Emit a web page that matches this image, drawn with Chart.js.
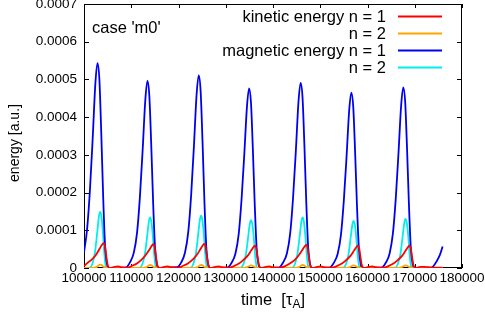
<!DOCTYPE html>
<html>
<head>
<meta charset="utf-8">
<script src="https://cdn.jsdelivr.net/npm/chart.js@4.4.0/dist/chart.umd.min.js"></script>
<style>
  html, body { margin: 0; padding: 0; background: #fff; }
</style>
</head>
<body>
<canvas id="chart" width="485" height="320"></canvas>
<script>
// energies in units of 1e-4, time in tau_A

const seriesLabels = ["kinetic energy n = 1", "n = 2", "magnetic energy n = 1", "n = 2"]
const seriesColors = ["#ff0000", "#ffa500", "#0000f0", "#00eeee"]

const kinN1Time = [100000,100690,101690,102590,103390,103890,104190,104440,104690,104940,105190,105490,106500,107200,107900,
    109200,110200,111200,112200,113100,113900,114400,114700,114950,115200,115450,115700,116000,117000,117700,118400,
    119990,120990,121990,122990,123890,124690,125190,125490,125740,125990,126240,126490,126790,127800,128500,129200,
    130710,131710,132710,133710,134610,135410,135910,136210,136460,136710,136960,137210,137510,138500,139200,139900,
    141560,142560,143560,144560,145460,146260,146760,147060,147310,147560,147810,148060,148360,149400,150100,150800,
    152490,153490,154490,155490,156390,157190,157690,157990,158240,158490,158740,158990,159290,160300,161000,161700,
    163410,164410,165410,166410,167310,168110,168610,168910,169160,169410,169660,169910,170210,171200,172000,173000,174500,175900]
const kinN1 = [0.05,0.13,0.23,0.36,0.53,0.63,0.66,0.58,0.34,0.12,0.02,0,0.03,0.04,0.02,
    0.01,0.06,0.12,0.22,0.35,0.50,0.60,0.63,0.55,0.33,0.11,0.02,0,0.03,0.04,0.02,
    0.01,0.06,0.12,0.22,0.35,0.51,0.61,0.64,0.56,0.33,0.12,0.02,0,0.03,0.04,0.02,
    0.01,0.05,0.11,0.21,0.32,0.47,0.56,0.59,0.52,0.31,0.11,0.02,0,0.03,0.04,0.02,
    0.01,0.05,0.12,0.21,0.34,0.49,0.58,0.61,0.54,0.32,0.11,0.02,0,0.03,0.04,0.02,
    0.01,0.05,0.11,0.21,0.32,0.47,0.56,0.59,0.52,0.31,0.11,0.02,0,0.03,0.04,0.02,
    0.01,0.05,0.11,0.21,0.32,0.47,0.56,0.59,0.52,0.31,0.11,0.02,0,0.03,0.03,0.02,0.01,0.01]

const kinN2Time = [100000,101930,102730,103180,103430,103730,104130,104730,
    112500,113300,113750,114000,114300,114700,115300,
    123290,124090,124540,124790,125090,125490,126090,
    133860,134660,135110,135360,135660,136060,136660,
    144780,145580,146030,146280,146580,146980,147580,
    155560,156360,156810,157060,157360,157760,158360,
    166560,167360,167810,168060,168360,168760,169360,
    175900]
const kinN2 = [0.005,0.005,0.03,0.08,0.09,0.08,0.03,0.005,
    0.005,0.03,0.07,0.08,0.07,0.03,0.005,
    0.005,0.03,0.07,0.08,0.07,0.03,0.005,
    0.005,0.03,0.06,0.07,0.06,0.03,0.005,
    0.005,0.03,0.07,0.08,0.07,0.03,0.005,
    0.005,0.03,0.06,0.07,0.06,0.03,0.005,
    0.005,0.03,0.06,0.07,0.06,0.03,0.005,
    0.005]

const magN1Time = [100000,100655,101255,101855,102405,102855,103255,103655,104055,104455,104855,105255,
    108830,109730,110530,111230,111830,112430,112980,113430,113830,114230,114630,115030,115430,115830,
    119680,120580,121380,122080,122680,123280,123830,124280,124680,125080,125480,125880,126280,126680,
    130340,131240,132040,132740,133340,133940,134490,134940,135340,135740,136140,136540,136940,137340,
    141250,142150,142950,143650,144250,144850,145400,145850,146250,146650,147050,147450,147850,148250,
    151980,152880,153680,154380,154980,155580,156130,156580,156980,157380,157780,158180,158580,158980,
    162970,163870,164670,165370,165970,166570,167120,167570,167970,168370,168770,169170,169570,169970,
    173000,173800,174600,175300,175900]
const magN1 = [0.41,1.03,2.06,3.48,4.89,5.43,5.00,3.58,1.90,0.60,0.11,0,
    0.01,0.15,0.40,0.94,1.88,3.17,4.46,4.96,4.56,3.27,1.74,0.55,0.10,0,
    0.02,0.15,0.41,0.97,1.94,3.27,4.60,5.11,4.70,3.37,1.79,0.56,0.10,0,
    0.01,0.14,0.38,0.90,1.81,3.05,4.28,4.76,4.38,3.14,1.67,0.52,0.10,0,
    0.01,0.15,0.39,0.93,1.87,3.14,4.42,4.91,4.52,3.24,1.72,0.54,0.10,0,
    0.01,0.14,0.37,0.88,1.77,2.98,4.19,4.65,4.28,3.07,1.63,0.51,0.09,0,
    0.01,0.14,0.38,0.91,1.82,3.07,4.31,4.79,4.41,3.16,1.68,0.53,0.10,0,
    0,0.03,0.17,0.34,0.57]

const magN2Time = [100000,101230,101830,102330,102830,103180,103430,103680,103980,104280,104580,104880,
    111800,112400,112900,113400,113750,114000,114250,114550,114850,115150,115450,
    122590,123190,123690,124190,124540,124790,125040,125340,125640,125940,126240,
    133160,133760,134260,134760,135110,135360,135610,135910,136210,136510,136810,
    144080,144680,145180,145680,146030,146280,146530,146830,147130,147430,147730,
    154860,155460,155960,156460,156810,157060,157310,157610,157910,158210,158510,
    165860,166460,166960,167460,167810,168060,168310,168610,168910,169210,169510,
    175900]
const magN2 = [0,0.01,0.13,0.42,0.98,1.39,1.49,1.37,0.98,0.42,0.06,0,
    0.01,0.12,0.38,0.88,1.25,1.34,1.23,0.88,0.38,0.05,0,
    0.01,0.13,0.39,0.92,1.29,1.39,1.28,0.92,0.39,0.06,0,
    0.01,0.11,0.36,0.84,1.18,1.27,1.17,0.84,0.36,0.05,0,
    0.01,0.12,0.38,0.88,1.25,1.34,1.23,0.88,0.38,0.05,0,
    0.01,0.11,0.35,0.83,1.16,1.25,1.15,0.83,0.35,0.05,0,
    0.01,0.12,0.36,0.86,1.21,1.30,1.20,0.86,0.36,0.05,0,
    0]

const FONT = '"Liberation Sans", Arial, Helvetica, sans-serif'

const series = function(times, values, i) {
    return {
        label: seriesLabels[i],
        data: times.map((t, k) => ({ x: t, y: values[k] * 1e-4 })),
        borderColor: seriesColors[i],
        backgroundColor: seriesColors[i],
        borderWidth: 1.8,
        pointRadius: 0,
        fill: false,
        cubicInterpolationMode: 'monotone'
    }
}

// border, inward tics on all four sides
const frame = {
    id: 'frame',
    beforeDatasetsDraw(chart) {
        const { ctx, chartArea: a, scales: { x, y } } = chart
        ctx.save()
        ctx.strokeStyle = '#000'
        ctx.lineWidth = 1
        ctx.strokeRect(a.left + 0.5, a.top + 0.5, a.right - a.left - 1, a.bottom - a.top - 1)
        ctx.beginPath()
        x.ticks.forEach((t) => {
            const px = Math.round(x.getPixelForValue(t.value)) + 0.5
            ctx.moveTo(px, a.bottom); ctx.lineTo(px, a.bottom - 4)
            ctx.moveTo(px, a.top); ctx.lineTo(px, a.top + 4)
        })
        y.ticks.forEach((t) => {
            const py = Math.round(y.getPixelForValue(t.value)) + 0.5
            ctx.moveTo(a.left, py); ctx.lineTo(a.left + 5, py)
            ctx.moveTo(a.right, py); ctx.lineTo(a.right - 5, py)
        })
        ctx.stroke()
        ctx.restore()
    },
    afterDraw(chart) {
        const ctx = chart.ctx
        ctx.save()
        ctx.fillStyle = '#000'

        // key
        ctx.font = '16.5px ' + FONT
        ctx.textAlign = 'right'
        ctx.textBaseline = 'alphabetic'
        chart.data.datasets.forEach((ds, i) => {
            const ly = 16 + i * 17
            ctx.fillStyle = '#000'
            ctx.fillText(ds.label, 386, ly + 5.5)
            ctx.strokeStyle = ds.borderColor
            ctx.lineWidth = 2
            ctx.beginPath()
            ctx.moveTo(398, ly + 0.5)
            ctx.lineTo(442, ly + 0.5)
            ctx.stroke()
        })

        ctx.textAlign = 'left'
        ctx.fillText("case 'm0'", 92, 32.5)

        // x axis title with subscript
        ctx.font = '16.5px ' + FONT
        const p1 = 'time  [\u03c4'
        const p3 = ']'
        const w1 = ctx.measureText(p1).width
        const w3 = ctx.measureText(p3).width
        ctx.font = '12px ' + FONT
        const w2 = ctx.measureText('A').width
        let sx = 273 - (w1 + w2 + w3) / 2
        ctx.font = '16.5px ' + FONT
        ctx.fillText(p1, sx, 304.5)
        ctx.font = '12px ' + FONT
        ctx.fillText('A', sx + w1, 308)
        ctx.font = '16.5px ' + FONT
        ctx.fillText(p3, sx + w1 + w2, 304.5)

        // y axis title
        ctx.font = '14px ' + FONT
        ctx.translate(15, 143)
        ctx.rotate(-Math.PI / 2)
        ctx.textAlign = 'center'
        ctx.textBaseline = 'middle'
        ctx.fillText('energy [a.u.]', 0, 0)
        ctx.restore()
    }
}

Chart.defaults.font.family = FONT
Chart.defaults.color = '#000'

new Chart(document.getElementById('chart'), {
    type: 'line',
    data: {
        datasets: [
            series(kinN1Time, kinN1, 0),
            series(kinN2Time, kinN2, 1),
            series(magN1Time, magN1, 2),
            series(magN2Time, magN2, 3)
        ]
    },
    options: {
        responsive: false,
        animation: false,
        devicePixelRatio: 1,
        layout: { padding: { top: 4, right: 23, left: 0, bottom: 0 } },
        plugins: {
            legend: { display: false },
            tooltip: { enabled: false }
        },
        scales: {
            x: {
                type: 'linear',
                min: 100000,
                max: 180000,
                grid: { display: false, drawTicks: false },
                border: { display: false },
                ticks: {
                    stepSize: 10000,
                    maxRotation: 0,
                    minRotation: 0,
                    autoSkip: false,
                    padding: 2,
                    font: { size: 13.5 },
                    callback: (v) => String(v)
                },
                afterFit: (s) => { s.height = 52; s.paddingLeft = 0; s.paddingRight = 0 }
            },
            y: {
                min: 0,
                max: 0.0007,
                grid: { display: false, drawTicks: false },
                border: { display: false },
                ticks: {
                    stepSize: 0.0001,
                    padding: 7,
                    font: { size: 13.5 },
                    callback: (v) => v === 0 ? '0' : v.toFixed(4)
                },
                afterFit: (s) => { s.width = 84; s.paddingTop = 0; s.paddingBottom = 0 }
            }
        }
    },
    plugins: [frame]
})
</script>
</body>
</html>
